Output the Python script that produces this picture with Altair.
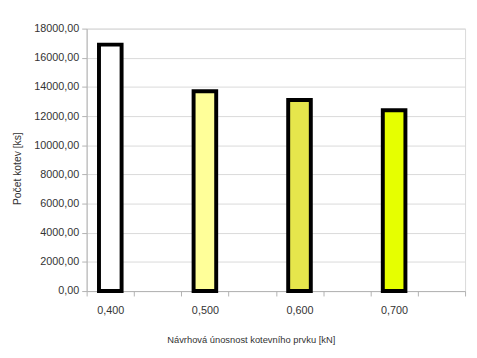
import altair as alt
import pandas as pd

categories = ["0,400", "0,500", "0,600", "0,700"]
values = [16900, 13700, 13100, 12400]
colors = ["#FFFFFF", "#FFFF99", "#E6E64C", "#E6FF00"]
spacers = [" ", "  ", "   ", "    "]

domain = []
for c, s in zip(categories, spacers):
    domain += [c, s]

df = pd.DataFrame({"kat": categories, "pocet": values})

label_font = "Liberation Sans"

chart = alt.Chart(df).mark_bar(
    stroke="black", strokeWidth=4, size=23
).encode(
    x=alt.X(
        "kat:N",
        sort=domain,
        scale=alt.Scale(domain=domain, paddingInner=0, paddingOuter=0),
        axis=alt.Axis(
            title="Návrhová únosnost kotevního prvku [kN]",
            labelAngle=0,
            tickBand="extent",
            tickSize=5,
            labelPadding=9,
            grid=False,
            domainColor="#b3b3b3",
            tickColor="#b3b3b3",
            labelColor="#333333",
            labelFont=label_font,
            labelFontSize=11,
            titleFont=label_font,
            titleFontSize=9.5,
            titleFontWeight="normal",
            titleColor="#333333",
            titleX=167,
            titleY=49,
            titleAlign="center",
            titleBaseline="middle",
        ),
    ),
    y=alt.Y(
        "pocet:Q",
        scale=alt.Scale(domain=[0, 18000], nice=False),
        axis=alt.Axis(
            title="Počet kotev [ks]",
            values=list(range(0, 18001, 2000)),
            format=".2f",
            labelExpr="replace(datum.label, '.', ',')",
            tickSize=5,
            labelPadding=3,
            gridColor="#d9d9d9",
            domainColor="#b3b3b3",
            tickColor="#b3b3b3",
            labelColor="#333333",
            labelFont=label_font,
            labelFontSize=11,
            titleFont=label_font,
            titleFontSize=10.5,
            titleFontWeight="normal",
            titleColor="#333333",
            titleX=-70,
            titleY=142,
            titleAlign="center",
            titleBaseline="middle",
            titleAngle=270,
        ),
    ),
    color=alt.Color(
        "kat:N",
        scale=alt.Scale(domain=categories, range=colors),
        legend=None,
    ),
).properties(
    width=385,
    height=267,
    autosize=alt.AutoSizeParams(type="none"),
    padding={"left": 80, "top": 18, "right": 4, "bottom": 57},
    background="white",
).configure_view(stroke="#d9d9d9")

chart.save("out.html", embed_options={"renderer": "svg", "actions": False})
